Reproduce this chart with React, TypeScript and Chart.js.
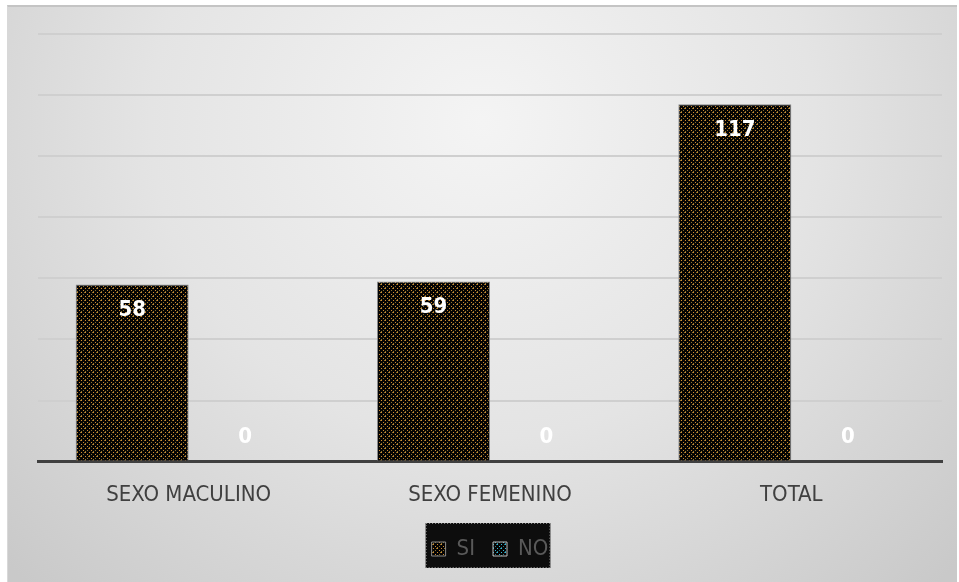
import React, { useEffect, useRef } from "react";
import { Chart, registerables } from "chart.js";

Chart.register(...registerables);

const categories = ["SEXO MACULINO", "SEXO FEMENINO", "TOTAL"];
const siValues = [58, 59, 117];
const noValues = [0, 0, 0];
const seriesNames = ["SI", "NO"];
const yMax = 140;
const yStep = 20;

const FONT = "'Liberation Sans Narrow', 'Arial Narrow', 'DejaVu Sans Condensed', sans-serif";

function makePattern(dot1: string, dot2: string): CanvasPattern | string {
  const c = document.createElement("canvas");
  c.width = 8;
  c.height = 8;
  const g = c.getContext("2d");
  if (!g) return "#000";
  g.fillStyle = "#050403";
  g.fillRect(0, 0, 8, 8);
  g.fillStyle = dot1;
  [[1, 1], [5, 1], [1, 5], [5, 5], [3, 3], [7, 7]].forEach(([x, y]) => g.fillRect(x, y, 1, 1));
  g.fillStyle = dot2;
  [[3, 7], [7, 3], [0, 1], [1, 0], [4, 5], [5, 4]].forEach(([x, y]) => g.fillRect(x, y, 1, 1));
  const ctx = document.createElement("canvas").getContext("2d");
  const p = ctx ? ctx.createPattern(c, "repeat") : null;
  return p || "#000";
}

const labelPlugin = {
  id: "valueLabels",
  afterDatasetsDraw(chart: any) {
    const ctx = chart.ctx;
    ctx.save();
    ctx.fillStyle = "#ffffff";
    ctx.font = `bold 22px ${FONT}`;
    ctx.textAlign = "center";
    ctx.textBaseline = "middle";
    chart.data.datasets.forEach((ds: any, i: number) => {
      const meta = chart.getDatasetMeta(i);
      meta.data.forEach((bar: any, j: number) => {
        const v = ds.data[j];
        const y = v > 0 ? bar.y + 26 : bar.y - 24;
        ctx.fillText(String(v), bar.x, y);
      });
    });
    ctx.restore();
  },
};

const legendBgPlugin = {
  id: "legendBg",
  beforeDraw(chart: any) {
    const lg = chart.legend;
    if (!lg || !lg.legendHitBoxes || !lg.legendHitBoxes.length) return;
    const boxes = lg.legendHitBoxes;
    const left = boxes[0].left - 6;
    const right = boxes[boxes.length - 1].left + boxes[boxes.length - 1].width + 2;
    const top = boxes[0].top - 15;
    const h = 45;
    const ctx = chart.ctx;
    ctx.save();
    ctx.fillStyle = "#0d0d0d";
    ctx.fillRect(left, top, right - left, h);
    ctx.setLineDash([1, 2]);
    ctx.strokeStyle = "#9a9a9a";
    ctx.lineWidth = 1;
    ctx.strokeRect(left + 0.5, top + 0.5, right - left - 1, h - 1);
    ctx.restore();
  },
};

export default function App() {
  const ref = useRef<HTMLCanvasElement | null>(null);
  useEffect(() => {
    if (!ref.current) return;
    const siPat = makePattern("#d08a30", "#8a7030");
    const noPat = makePattern("#30b8d8", "#2a7a8a");
    const chart = new Chart(ref.current, {
      type: "bar",
      data: {
        labels: categories,
        datasets: [
          { label: seriesNames[0], data: siValues, backgroundColor: siPat as any, borderColor: "#8a8a8a", borderWidth: 1 },
          { label: seriesNames[1], data: noValues, backgroundColor: noPat as any, borderColor: "#bbbbbb", borderWidth: 1 },
        ],
      },
      plugins: [legendBgPlugin, labelPlugin],
      options: {
        animation: false,
        responsive: true,
        maintainAspectRatio: false,
        layout: { padding: { left: 30, right: 15, top: 27, bottom: 12 } },
        datasets: { bar: { categoryPercentage: 0.75, barPercentage: 1 } },
        scales: {
          x: {
            grid: { display: false },
            border: { color: "#404040", width: 3 },
            ticks: { color: "#404040", font: { family: FONT, size: 22 }, padding: 12 },
          },
          y: {
            min: 0,
            max: yMax,
            ticks: { display: false, stepSize: yStep },
            grid: { color: "#cfcfcf", lineWidth: 2, drawTicks: false },
            border: { display: false },
          },
        },
        plugins: {
          tooltip: { enabled: false },
          legend: {
            position: "bottom",
            labels: {
              color: "#595959",
              font: { family: FONT, size: 22 },
              boxWidth: 14,
              boxHeight: 14,
              padding: 18,
            },
          },
        },
      },
    });
    return () => chart.destroy();
  }, []);
  return (
    <div
      style={{
        position: "fixed",
        left: 7,
        top: 5,
        width: 950,
        height: 577,
        borderTop: "2px solid #c4c4c4",
        borderLeft: "1px solid #d8d8d8",
        boxSizing: "border-box",
        background: "radial-gradient(ellipse 70% 110% at 50% 20%, #f4f4f4 0%, #e4e4e4 50%, #c9c9c9 100%)",
      }}
    >
      <canvas ref={ref} />
    </div>
  );
}
